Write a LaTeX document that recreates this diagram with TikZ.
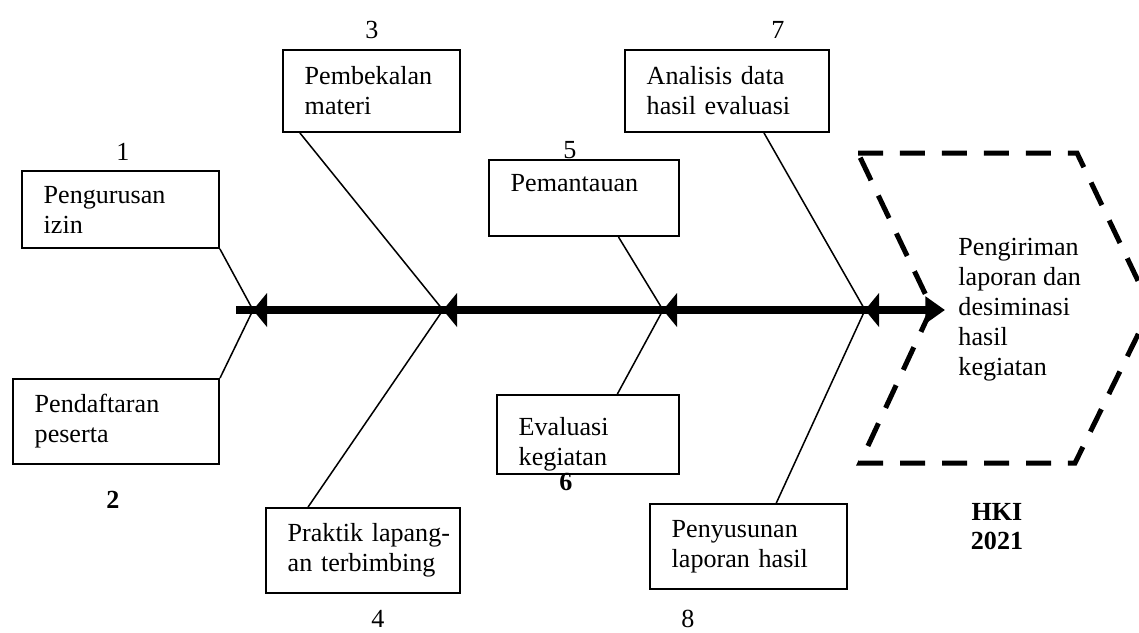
\documentclass[tikz,border=0pt]{standalone}
\usepackage{fontspec}
\setmainfont{Liberation Serif}
\usetikzlibrary{arrows.meta, calc}

\begin{document}
\begin{tikzpicture}[x=0.46pt, y=-0.46pt, font=\fontsize{12}{13.8}\selectfont]
			\tikzstyle{box}=[
			draw,
			line width=0.9pt,
			rectangle,
			anchor=north west,
			align=left,
			inner xsep=10pt
			]
			\tikzstyle{num}=[inner sep=0pt]
			\tikzstyle{boldnum}=[inner sep=0pt, align=center, font=\fontsize{12}{13.4}\selectfont\bfseries]
			\tikzstyle{bone}=[line width=0.7pt]
			\tikzstyle{spine}=[line width=3.7pt, -{Triangle[length=9pt, width=12pt]}]
			\tikzstyle{hexa}=[line width=2.3pt, dash pattern=on 11.5pt off 7.8pt]
			\clip (0,0) rectangle (1139,632);
			%
			\node[box, text width=70.6pt, minimum height=35.4pt] (IZIN) at (21,170) {Pengurusan\\izin};
			\node[box, text width=74.8pt, minimum height=39.1pt] (DAFTAR) at (12,378) {Pendaftaran\\peserta};
			\node[box, text width=61.4pt, minimum height=37.7pt] (BEKAL) at (282,49) {Pembekalan\\materi};
			\node[box, text width=69.2pt, minimum height=39.1pt] (PRAKTIK) at (265,507) {\mbox{Praktik lapang-}\\an terbimbing};
			\node[box, text width=67.4pt, minimum height=35pt] (PANTAU) at (488,159) {Pemantauan\\\mbox{}};
			\node[box, text width=63.7pt, minimum height=36.3pt, text height=17pt, inner ysep=0pt] (EVAL) at (496,394) {Evaluasi\\kegiatan};
			\node[box, text width=73.8pt, minimum height=37.7pt] (ANALISIS) at (624,49) {Analisis data\\hasil evaluasi};
			\node[box, text width=70.6pt, minimum height=39.1pt] (SUSUN) at (649,503) {Penyusunan\\laporan hasil};
			%
			\node[num] (N1) at (123,152) {1};
			\node[num] (N3) at (372,30) {3};
			\node[num] (N5) at (570,150) {5};
			\node[num] (N7) at (778,30) {7};
			\node[num] (N4) at (378,619) {4};
			\node[num] (N8) at (688,619) {8};
			\node[boldnum] (N2) at (113,500) {2};
			\node[boldnum] (N6) at (566,482) {6};
			\node[boldnum] (HKI) at (997,527) {HKI\\2021};
			%
			\node[align=left, anchor=west, inner xsep=6pt, inner ysep=0pt] (HASIL) at (945,310) {Pengiriman\\laporan dan\\desiminasi\\hasil\\kegiatan};
			\draw[hexa] (858,153) -- (1077,153) -- (1151,308) -- (1075,463) -- (860,463) -- (932,308) -- cycle;
			%
			\coordinate (TAIL) at (236,310);
			\coordinate (J1) at (253,310);
			\coordinate (J2) at (443,310);
			\coordinate (J3) at (663,310);
			\coordinate (J4) at (865,310);
			\draw[spine] (TAIL) -- (HASIL);
			%
			\draw[bone] (IZIN.south east) -- (J1);
			\draw[bone] (DAFTAR.north east) -- (J1);
			\draw[bone] ($(BEKAL.south west)!0.1!(BEKAL.south east)$) -- (J2);
			\draw[bone] ($(PRAKTIK.north west)!0.22!(PRAKTIK.north east)$) -- (J2);
			\draw[bone] ($(PANTAU.south west)!0.68!(PANTAU.south east)$) -- (J3);
			\draw[bone] ($(EVAL.north west)!0.66!(EVAL.north east)$) -- (J3);
			\draw[bone] ($(ANALISIS.south west)!0.68!(ANALISIS.south east)$) -- (J4);
			\draw[bone] ($(SUSUN.north west)!0.64!(SUSUN.north east)$) -- (J4);
			\foreach \j in {J1,J2,J3,J4}
				\fill (\j) -- ++(14,-17) -- ++(0,34) -- cycle;
		\end{tikzpicture}
\end{document}
